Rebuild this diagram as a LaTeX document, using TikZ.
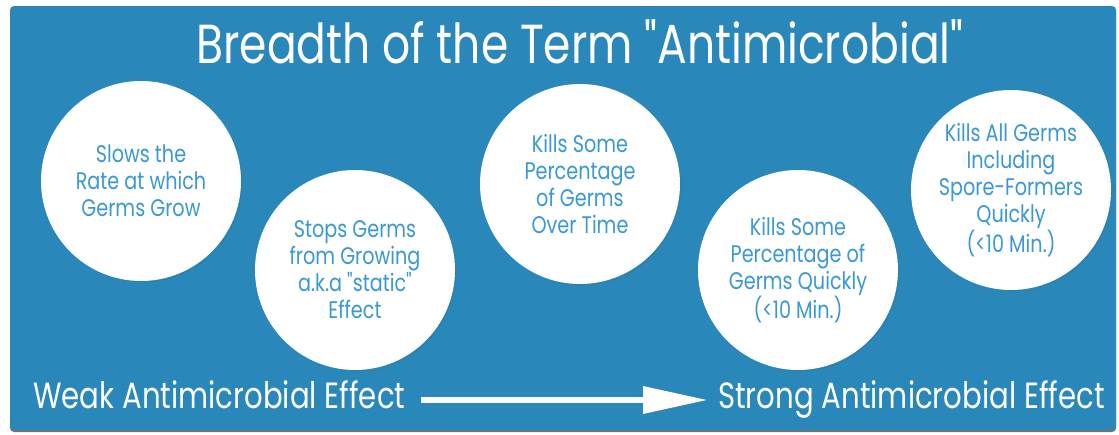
\documentclass[tikz,border=0pt]{standalone}
\usepackage{fontspec}
\newfontfamily\ff[FakeStretch=0.8]{Poppins}
\usetikzlibrary{shadows,arrows.meta}
\definecolor{bg}{RGB}{41,135,186}
\definecolor{ctext}{RGB}{58,152,212}
\begin{document}
\begin{tikzpicture}[x=1pt,y=-1pt,
  bubble/.style={circle, fill=white, minimum size=200pt, inner sep=0pt, align=center,
    text=ctext, font=\ff\fontsize{24}{27}\selectfont,
    circular drop shadow={shadow xshift=1.5pt, shadow yshift=-1.5pt, shadow scale=1.0, opacity=0.3, fill=black}},
  label/.style={anchor=base west, inner sep=0pt, text=white, font=\ff\fontsize{36.5}{40}\selectfont},
  titlestyle/.style={anchor=base, inner sep=0pt, text=white, font=\ff\fontsize{55}{60}\selectfont}]
\useasboundingbox (0,0) rectangle (1119,434);
\fill[black!55, rounded corners=4pt] (10,9) rectangle (1116,432);
\fill[bg, rounded corners=4pt] (10,6) rectangle (1116,430);
\node[titlestyle] (title) at (580,63) {Breadth of the Term "Antimicrobial"};
\node[bubble] (c1) at (141,181) {Slows the\\Rate at which\\Germs Grow};
\node[bubble] (c2) at (355,270) {Stops Germs\\from Growing\\a.k.a "static"\\Effect};
\node[bubble] (c3) at (580,184) {Kills Some\\Percentage\\of Germs\\Over Time};
\node[bubble] (c4) at (798,270) {Kills Some\\Percentage of\\Germs Quickly\\(<10 Min.)};
\node[bubble] (c5) at (1011,190) {Kills All Germs\\Including\\Spore-Formers\\Quickly\\(<10 Min.)};
\node[label] (weak) at (33,408) {Weak Antimicrobial Effect};
\node[label] (strong) at (718,408) {Strong Antimicrobial Effect};
\draw[white, line width=6.5pt, -{Triangle[length=65pt,width=26pt]}]
  ([xshift=15pt,yshift=8pt]weak.base east) -- ([xshift=-10pt,yshift=8pt]strong.base west);
\end{tikzpicture}
\end{document}
